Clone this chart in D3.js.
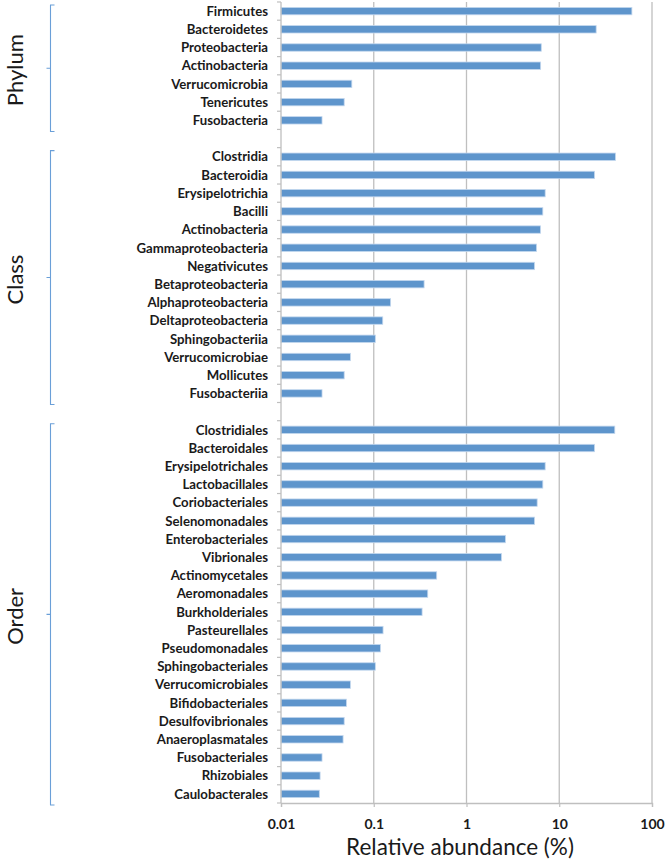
<!DOCTYPE html>
<html>
<head>
<meta charset="utf-8">
<script src="https://cdn.jsdelivr.net/npm/d3@7/dist/d3.min.js"></script>
<style>
  html, body { margin: 0; padding: 0; background: #fff; }
  svg { display: block; }
</style>
</head>
<body>
<svg id="chart" width="666" height="865"></svg>
<script>
// ---------- data ----------
const phylumNames = ["Firmicutes","Bacteroidetes","Proteobacteria","Actinobacteria","Verrucomicrobia","Tenericutes","Fusobacteria"];
const phylumValues = [60.7, 25.0, 6.4, 6.3, 0.058, 0.048, 0.0277];

const classNames = ["Clostridia","Bacteroidia","Erysipelotrichia","Bacilli","Actinobacteria","Gammaproteobacteria","Negativicutes","Betaproteobacteria","Alphaproteobacteria","Deltaproteobacteria","Sphingobacteriia","Verrucomicrobiae","Mollicutes","Fusobacteriia"];
const classValues = [40.4, 24.0, 7.05, 6.65, 6.28, 5.69, 5.41, 0.349, 0.152, 0.125, 0.104, 0.056, 0.048, 0.0277];

const orderNames = ["Clostridiales","Bacteroidales","Erysipelotrichales","Lactobacillales","Coriobacteriales","Selenomonadales","Enterobacteriales","Vibrionales","Actinomycetales","Aeromonadales","Burkholderiales","Pasteurellales","Pseudomonadales","Sphingobacteriales","Verrucomicrobiales","Bifidobacteriales","Desulfovibrionales","Anaeroplasmatales","Fusobacteriales","Rhizobiales","Caulobacterales"];
const orderValues = [39.7, 24.0, 7.05, 6.65, 5.78, 5.41, 2.63, 2.38, 0.477, 0.382, 0.332, 0.126, 0.118, 0.104, 0.056, 0.0507, 0.048, 0.0467, 0.0277, 0.0264, 0.0259];

const groupLabels = ["Phylum","Class","Order"];
const xTickValues = [0.01, 0.1, 1, 10, 100];
const xTitle = "Relative abundance (%)";

// ---------- build rows ----------
const groups = [
  {label: groupLabels[0], names: phylumNames, values: phylumValues},
  {label: groupLabels[1], names: classNames, values: classValues},
  {label: groupLabels[2], names: orderNames, values: orderValues}
];
const rows = [];
groups.forEach((g, gi) => {
  g.keys = [];
  g.names.forEach((n, i) => {
    const key = g.label + ":" + n;
    g.keys.push(key);
    rows.push({key, name: n, value: g.values[i], group: gi});
  });
  if (gi < groups.length - 1) rows.push({key: "__gap" + gi, name: "", value: null, group: gi});
});

// ---------- scales ----------
const svg = d3.select("#chart");
const x = d3.scaleLog().domain([0.01, 100]).range([281, 652]);
const y = d3.scaleBand().domain(rows.map(r => r.key)).range([2, 803]).padding(0);
const bw = y.bandwidth();
const barH = 7.4;
const gridColor = "#bfbfbf";
const font = "Lato, 'Open Sans', sans-serif";

// gridlines
svg.append("g").selectAll("line")
  .data(xTickValues.slice(1))
  .join("line")
  .attr("x1", d => x(d)).attr("x2", d => x(d))
  .attr("y1", y.range()[0]).attr("y2", y.range()[1])
  .attr("stroke", gridColor).attr("stroke-width", 1.3);

// bars
svg.append("g").selectAll("rect")
  .data(rows.filter(r => r.value != null))
  .join("rect")
  .attr("x", x(0.01))
  .attr("y", d => y(d.key) + (bw - barH) / 2)
  .attr("width", d => x(d.value) - x(0.01))
  .attr("height", barH)
  .attr("fill", "#5e95cc")
  .attr("stroke", "#c3d7ee")
  .attr("stroke-width", 0.8);

// y axis line + boundary ticks
const yAxisG = svg.append("g");
yAxisG.append("line")
  .attr("x1", x(0.01)).attr("x2", x(0.01))
  .attr("y1", y.range()[0]).attr("y2", y.range()[1])
  .attr("stroke", gridColor).attr("stroke-width", 1.3);
const boundaries = rows.map(r => y(r.key)).concat([y.range()[1]]);
yAxisG.selectAll("line.tk").data(boundaries).join("line")
  .attr("class", "tk")
  .attr("x1", x(0.01) - 4).attr("x2", x(0.01))
  .attr("y1", d => d).attr("y2", d => d)
  .attr("stroke", gridColor).attr("stroke-width", 1.2);

// category labels
svg.append("g").selectAll("text")
  .data(rows.filter(r => r.value != null))
  .join("text")
  .attr("x", 268)
  .attr("y", d => y(d.key) + bw / 2)
  .attr("dy", "0.36em")
  .attr("text-anchor", "end")
  .attr("font-family", font)
  .attr("font-weight", "bold")
  .attr("font-size", 13.2)
  .attr("fill", "#1a1a1a")
  .text(d => d.name);

// x axis
const xAxis = d3.axisBottom(x).tickValues(xTickValues).tickFormat(d => String(d)).tickSize(4).tickPadding(12);
const xg = svg.append("g").attr("transform", `translate(0,${y.range()[1]})`).call(xAxis);
xg.select(".domain").attr("stroke", gridColor).attr("stroke-width", 1.3);
xg.selectAll(".tick line").attr("stroke", gridColor).attr("stroke-width", 1.2);
xg.selectAll(".tick text")
  .attr("font-family", font)
  .attr("font-weight", "bold")
  .attr("font-size", 14)
  .attr("fill", "#1a1a1a");

// x title
svg.append("text")
  .attr("x", 460).attr("y", 855)
  .attr("text-anchor", "middle")
  .attr("font-family", font)
  .attr("font-size", 22.5)
  .attr("fill", "#1a1a1a")
  .text(xTitle);

// group brackets and labels
const brColor = "#6a9fd8";
groups.forEach(g => {
  const top = y(g.keys[0]) + 3;
  const bot = y(g.keys[g.keys.length - 1]) + bw + 2;
  const mid = (top + bot) / 2;
  const bx = 50.5;
  svg.append("path")
    .attr("d", `M${bx + 4},${top} L${bx},${top} L${bx},${bot} L${bx + 4},${bot} M${bx},${mid} L${bx - 4},${mid}`)
    .attr("fill", "none")
    .attr("stroke", brColor)
    .attr("stroke-width", 1.1);
  svg.append("text")
    .attr("transform", `translate(23,${mid + 2}) rotate(-90)`)
    .attr("text-anchor", "middle")
    .attr("font-family", font)
    .attr("font-size", 22)
    .attr("fill", "#1a1a1a")
    .text(g.label);
});
</script>
</body>
</html>
